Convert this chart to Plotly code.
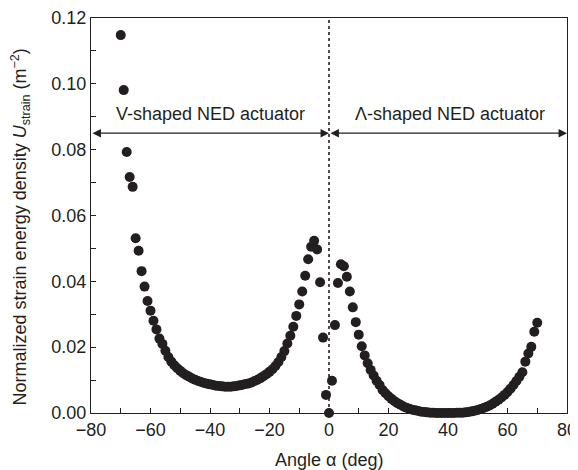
import plotly.graph_objects as go

angles = list(range(-70, 71))
u_strain = [
    # -70 .. -56
    0.1148, 0.0981, 0.0793, 0.0717, 0.0687, 0.0531, 0.0493, 0.0431, 0.0384, 0.0340,
    0.0311, 0.0280, 0.0254, 0.0226, 0.0210,
    # -55 .. -16
    0.0189, 0.0170, 0.0156, 0.0145, 0.0136, 0.0128, 0.0121, 0.0115, 0.0110, 0.0105,
    0.0101, 0.0097, 0.0094, 0.0091, 0.0089, 0.0087, 0.0085, 0.0083, 0.0082, 0.0081,
    0.0080, 0.0080, 0.0080, 0.0081, 0.0082, 0.0084, 0.0086, 0.0088, 0.0090, 0.0093,
    0.0097, 0.0101, 0.0106, 0.0112, 0.0118, 0.0125, 0.0133, 0.0143, 0.0155, 0.0170,
    # -15 .. 0
    0.0188, 0.0211, 0.0235, 0.0262, 0.0295, 0.0330, 0.0369, 0.0417, 0.0467, 0.0505,
    0.0523, 0.0497, 0.0397, 0.0229, 0.0055, 0.0000,
    # 1 .. 20
    0.0098, 0.0267, 0.0395, 0.0452, 0.0446, 0.0414, 0.0369, 0.0321, 0.0276, 0.0238,
    0.0203, 0.0175, 0.0151, 0.0131, 0.0114, 0.0098, 0.0085, 0.0070, 0.0060, 0.0051,
    # 21 .. 45
    0.0043, 0.0036, 0.0030, 0.0025, 0.0020, 0.0016, 0.0013, 0.0010, 0.0008, 0.0006,
    0.0004, 0.0003, 0.0002, 0.0001, 0.0001, 0.0000, 0.0000, 0.0000, 0.0000, 0.0000,
    0.0000, 0.0000, 0.0001, 0.0001, 0.0001,
    # 46 .. 70
    0.0002, 0.0003, 0.0005, 0.0007, 0.0009, 0.0012, 0.0015, 0.0019, 0.0023, 0.0028,
    0.0034, 0.0040, 0.0047, 0.0055, 0.0064, 0.0074, 0.0085, 0.0097, 0.0110, 0.0124,
    0.0156, 0.0181, 0.0201, 0.0247, 0.0274,
]

x_ticks = [-80, -60, -40, -20, 0, 20, 40, 60, 80]
y_ticks = [0.00, 0.02, 0.04, 0.06, 0.08, 0.10, 0.12]
region_labels = ["V-shaped NED actuator", "Λ-shaped NED actuator"]
region_bounds = [(-80, 0), (0, 80)]
region_centers = [-39.7, 40.8]
arrow_level = 0.085
label_level = 0.0885
x_title = "Angle α (deg)"
y_title = "Normalized strain energy density <i>U</i><sub>strain</sub> (m<sup>−2</sup>)"

INK = "#231f20"
FONT = "Liberation Sans, Arial, sans-serif"

fig = go.Figure()
fig.add_trace(go.Scatter(
    x=angles, y=u_strain, mode="markers",
    marker=dict(size=10, color=INK),
    cliponaxis=False, showlegend=False,
))

# dotted divider at 0
fig.add_shape(type="line", x0=0, x1=0, y0=0, y1=0.12, xref="x", yref="y",
              line=dict(color=INK, width=1.6, dash="dot"))

for (x0, x1), cx, txt in zip(region_bounds, region_centers, region_labels):
    fig.add_annotation(x=x1, y=arrow_level, ax=x0, ay=arrow_level,
                       xref="x", yref="y", axref="x", ayref="y",
                       text="", showarrow=True, arrowhead=2, arrowside="end+start",
                       arrowsize=1.3, arrowwidth=1.3, arrowcolor=INK,
                       startarrowhead=2, startarrowsize=1.3)
    fig.add_annotation(x=cx, y=label_level, xref="x", yref="y", text=txt,
                       showarrow=False, font=dict(size=18, color=INK, family=FONT),
                       yanchor="bottom", yshift=-4)

# axis titles
fig.add_annotation(x=0.5, y=-0.119, xref="paper", yref="paper", text=x_title,
                   showarrow=False, xanchor="center", yanchor="middle",
                   font=dict(size=18, color=INK, family=FONT))
fig.add_annotation(x=-0.149, y=0.47, xref="paper", yref="paper", text=y_title,
                   showarrow=False, textangle=-90, xanchor="center", yanchor="middle",
                   font=dict(size=18, color=INK, family=FONT))

axis_common = dict(
    showline=True, linecolor=INK, linewidth=1.3, mirror=True,
    ticks="inside", ticklen=5, tickwidth=1.1, tickcolor=INK,
    showgrid=False, zeroline=False, automargin=False,
    tickfont=dict(size=18, color=INK, family=FONT),
)

fig.update_xaxes(
    range=[-80, 80], tickvals=x_ticks,
    minor=dict(dtick=10, tick0=0, ticks="inside", ticklen=5, tickwidth=1.1, tickcolor=INK),
    **axis_common,
)
fig.update_yaxes(
    range=[0, 0.12], tickvals=y_ticks, tickformat=".2f",
    minor=dict(dtick=0.01, tick0=0, ticks="inside", ticklen=5, tickwidth=1.1, tickcolor=INK),
    **axis_common,
)

# the page body adds an 8 px offset, so the figure is sized to fit inside it
fig.update_layout(
    width=570, height=462,
    margin=dict(l=83, r=11, t=10, b=57),
    plot_bgcolor="white", paper_bgcolor="white",
    font=dict(family=FONT, color=INK),
)

fig.write_html("out.html")
